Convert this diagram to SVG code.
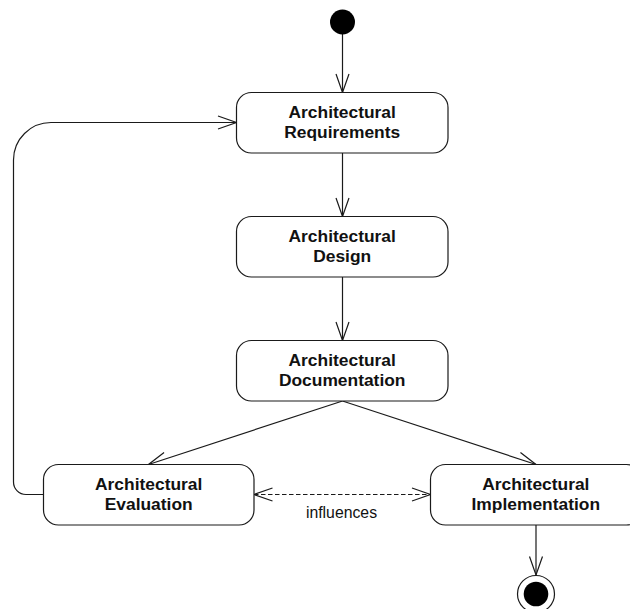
<svg xmlns="http://www.w3.org/2000/svg" width="630" height="609" viewBox="0 0 630 609">
<style>
.box{fill:#fff;stroke:#1a1a1a;stroke-width:1.2}
.lbl{font-family:"Liberation Sans",Arial,sans-serif;font-weight:bold;font-size:17.4px;fill:#111;text-anchor:middle}
.edge{fill:none;stroke:#1a1a1a;stroke-width:1.2}
.dash{stroke-dasharray:4.5,2.5}
.note{font-family:"Liberation Sans",Arial,sans-serif;font-size:15.8px;fill:#111;text-anchor:middle}
</style>
<defs>
<marker id="arr" markerUnits="userSpaceOnUse" markerWidth="24" markerHeight="20" viewBox="-20 -10 24 20" refX="0" refY="0" orient="auto-start-reverse">
<path d="M-18.5,-6.5 L0,0 L-18.5,6.5" fill="none" stroke="#1a1a1a" stroke-width="1.2"/>
</marker>
</defs>
<rect width="630" height="609" fill="#fff"/>
<g id="connectors">
<line class="edge" x1="342.5" y1="34" x2="342.5" y2="92.5" marker-end="url(#arr)"/>
<line class="edge" x1="342.5" y1="153" x2="342.5" y2="216.5" marker-end="url(#arr)"/>
<line class="edge" x1="342.5" y1="277" x2="342.5" y2="340.5" marker-end="url(#arr)"/>
<line class="edge" x1="342.5" y1="401" x2="148.5" y2="464.5" marker-end="url(#arr)"/>
<line class="edge" x1="342.5" y1="401" x2="536" y2="464.5" marker-end="url(#arr)"/>
<line class="edge" x1="536" y1="525" x2="536" y2="575" marker-end="url(#arr)"/>
<path class="edge" d="M43.5,494.5 H26 A12.5,12.5 0 0 1 13.5,482 V160 A37.5,37.5 0 0 1 51,122.5 H236.5" marker-end="url(#arr)"/>
<line class="edge dash" x1="254" y1="494.5" x2="430.5" y2="494.5" marker-start="url(#arr)" marker-end="url(#arr)"/>
<text class="note" x="341.5" y="518.3">influences</text>
</g>
<g id="initial">
<circle cx="342.5" cy="22" r="12.5" fill="#000"/>
</g>
<g id="requirements">
<rect class="box" x="236.5" y="92.5" width="211.5" height="60.5" rx="15" ry="15"/>
<text class="lbl" x="342.2" y="117.7">Architectural</text>
<text class="lbl" x="342.2" y="137.7">Requirements</text>
</g>
<g id="design">
<rect class="box" x="236.5" y="216.5" width="211.5" height="60.5" rx="15" ry="15"/>
<text class="lbl" x="342.2" y="241.7">Architectural</text>
<text class="lbl" x="342.2" y="261.7">Design</text>
</g>
<g id="documentation">
<rect class="box" x="236.5" y="340.5" width="211.5" height="60.5" rx="15" ry="15"/>
<text class="lbl" x="342.2" y="365.7">Architectural</text>
<text class="lbl" x="342.2" y="385.7">Documentation</text>
</g>
<g id="evaluation">
<rect class="box" x="43.5" y="464.5" width="210.5" height="60.5" rx="15" ry="15"/>
<text class="lbl" x="148.7" y="489.7">Architectural</text>
<text class="lbl" x="148.7" y="509.7">Evaluation</text>
</g>
<g id="implementation">
<rect class="box" x="430.5" y="464.5" width="211" height="60.5" rx="15" ry="15"/>
<text class="lbl" x="535.8" y="489.7">Architectural</text>
<text class="lbl" x="535.8" y="509.7">Implementation</text>
</g>
<g id="final">
<circle cx="536" cy="594" r="18.5" fill="#fff" stroke="#1a1a1a" stroke-width="1.2"/>
<circle cx="536" cy="594" r="12.3" fill="#000"/>
</g>
</svg>
